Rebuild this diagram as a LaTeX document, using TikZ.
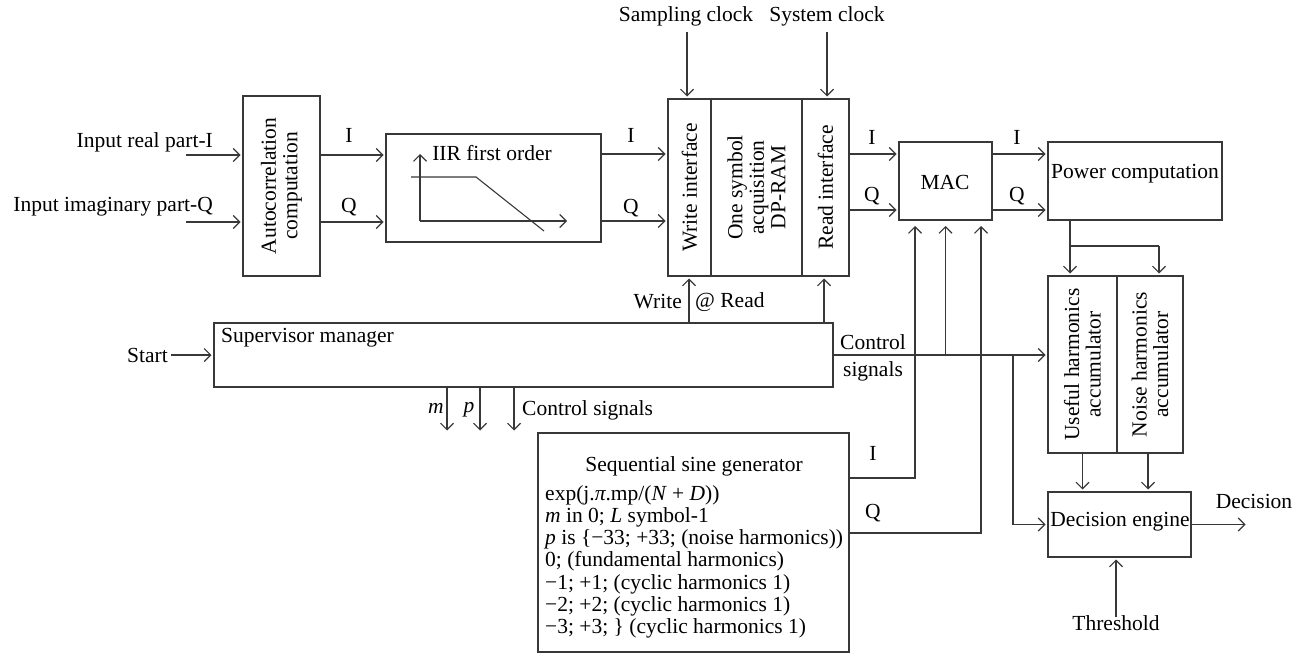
\documentclass[tikz,border=0pt]{standalone}
\usepackage{fontspec}
\setmainfont{Liberation Serif}
\usetikzlibrary{arrows.meta}
\begin{document}
\begin{tikzpicture}[x=1pt,y=-1pt,
  font=\fontsize{21.5}{22}\selectfont,
  box/.style={draw=black!78,line width=1.1pt,inner sep=0pt,outer sep=0pt},
  ln/.style={draw=black!78,line width=1.1pt},
  arr/.style={ln,-{Straight Barb[length=6.5pt,width=13pt,line width=1.1pt]},shorten >=2.5pt},
  axis/.style={ln,-{Straight Barb[length=6.5pt,width=13pt,line width=1.1pt]}},
  lbl/.style={inner sep=0pt,text=black},
  rot/.style={lbl,rotate=90,align=center,font=\fontsize{21.5}{21.5}\selectfont}
]
\useasboundingbox (0,0) rectangle (1296,653);

% ---------- boxes ----------
\node[box,minimum width=77pt,minimum height=180pt] (auto) at (281.5,186) {};
\node[rot] (autot) at (auto.center) {Autocorrelation\\computation};

\node[box,minimum width=215pt,minimum height=108pt] (iir) at (493.5,188) {};
\node[lbl] (iirt) at (492,153) {IIR first order};
\draw[axis] (420,221) -- (420,154);
\draw[axis] (420,221) -- (567,221);
\draw[ln] (411,177) -- (476,177) -- (544,231);

\node[box,minimum width=43pt,minimum height=177pt] (wi) at (689.5,187.5) {};
\node[box,minimum width=91pt,minimum height=177pt] (dp) at (756.5,187.5) {};
\node[box,minimum width=47pt,minimum height=177pt] (ri) at (825.5,187.5) {};
\node[rot] (wit) at (wi.center) {Write interface};
\node[rot] (dpt) at (dp.center) {One symbol\\acquisition\\DP-RAM};
\node[rot] (rit) at (ri.center) {Read interface};

\node[box,minimum width=93pt,minimum height=78pt] (mac) at (945.5,181) {};
\node[lbl] (mact) at (945,182) {MAC};

\node[box,minimum width=174pt,minimum height=78pt] (pow) at (1135,181) {};
\node[lbl] (powt) at (1135,174) {Power computation};

\node[box,minimum width=619pt,minimum height=64pt] (sup) at (523.5,355) {};
\node[lbl,anchor=west] (supt) at (221,338) {Supervisor manager};

\node[box,minimum width=311pt,minimum height=219pt] (sine) at (693.5,542.5) {};
\node[lbl,anchor=base] (sinet) at (694,471) {Sequential sine generator};
\node[lbl,anchor=base west] (s1) at (545,500) {exp(j.\textit{π}.mp/(\textit{N} + \textit{D}))};
\node[lbl,anchor=base west] (s2) at (545,522) {\textit{m} in 0; \textit{L} symbol-1};
\node[lbl,anchor=base west] (s3) at (545,544) {\textit{p} is \{−33; +33; (noise harmonics))};
\node[lbl,anchor=base west] (s4) at (545,566) {0; (fundamental harmonics)};
\node[lbl,anchor=base west] (s5) at (545,589) {−1; +1; (cyclic harmonics 1)};
\node[lbl,anchor=base west] (s6) at (545,611) {−2; +2; (cyclic harmonics 1)};
\node[lbl,anchor=base west] (s7) at (545,633) {−3; +3; \} (cyclic harmonics 1)};

\node[box,minimum width=69pt,minimum height=177pt] (ua) at (1082.5,364.5) {};
\node[box,minimum width=66pt,minimum height=177pt] (na) at (1150,364.5) {};
\node[rot] (uat) at (ua.center) {Useful harmonics\\accumulator};
\node[rot] (nat) at (na.center) {Noise harmonics\\accumulator};

\node[box,minimum width=143pt,minimum height=65pt] (dec) at (1119.5,524.5) {};
\node[lbl] (dect) at (1120,522) {Decision engine};

% ---------- inputs ----------
\node[lbl,anchor=east] (tin1) at (213,142) {Input real part-I};
\node[lbl,anchor=east] (tin2) at (213,207) {Input imaginary part-Q};
\coordinate (in1) at (186,155);
\coordinate (in2) at (186,222);
\draw[arr] (in1) -- (in1 -| auto.west);
\draw[arr] (in2) -- (in2 -| auto.west);

\draw[arr] (auto.east |- in1) -- (iir.west |- in1);
\draw[arr] (auto.east |- in2) -- (iir.west |- in2);
\node[lbl] (la1) at (349,135) {I};
\node[lbl] (la2) at (349,207) {Q};

\coordinate (r1) at (0,154);
\coordinate (r2) at (0,221);
\draw[arr] (iir.east |- r1) -- (wi.west |- r1);
\draw[arr] (iir.east |- r2) -- (wi.west |- r2);
\node[lbl] (lb1) at (631,135) {I};
\node[lbl] (lb2) at (631,208) {Q};

% clocks
\node[lbl] (sc) at (686,16) {Sampling clock};
\node[lbl] (syc) at (827,16) {System clock};
\coordinate (sct) at (687,32);
\coordinate (syt) at (827,32);
\draw[arr] (sct) -- (sct |- wi.north);
\draw[arr] (syt) -- (syt |- ri.north);

% write / read
\coordinate (wx) at (689,0);
\coordinate (rx) at (824,0);
\draw[arr] (wx |- sup.north) -- (wx |- wi.south);
\draw[arr] (rx |- sup.north) -- (rx |- ri.south);
\node[lbl,anchor=east] (lw) at (682,302) {Write};
\node[lbl,anchor=west] (lr) at (695,302) {@ Read};

% RAM -> MAC -> power
\coordinate (m1) at (0,154);
\coordinate (m2) at (0,210);
\draw[arr] (ri.east |- m1) -- (mac.west |- m1);
\draw[arr] (ri.east |- m2) -- (mac.west |- m2);
\node[lbl] (lc1) at (872,137) {I};
\node[lbl] (lc2) at (872,196) {Q};
\draw[arr] (mac.east |- m1) -- (pow.west |- m1);
\draw[arr] (mac.east |- m2) -- (pow.west |- m2);
\node[lbl] (ld1) at (1017,137) {I};
\node[lbl] (ld2) at (1017,196) {Q};

% power -> accumulators
\coordinate (pj) at (1070,246);
\coordinate (pj2) at (1159,246);
\draw[ln] (pj |- pow.south) -- (pj) -- (pj2);
\draw[arr] (pj) -- (pj |- ua.north);
\draw[arr] (pj2) -- (pj2 |- na.north);

% accumulators -> decision
\draw[arr] (ua.south) -- (ua.south |- dec.north);
\draw[arr] ([xshift=-2pt]na.south) -- ([xshift=-2pt]na.south |- dec.north);

% threshold, decision
\node[lbl] (th) at (1116,623) {Threshold};
\draw[arr] ([yshift=-2pt]th.north) -- (th.north |- dec.south);
\coordinate (dout) at (1248,524.5);
\draw[arr] (dec.east) -- (dout);
\node[lbl] (ldec) at (1254,501) {Decision};

% start
\node[lbl,anchor=east] (st) at (168,355) {Start};
\draw[arr] ([xshift=3pt]st.east) -- (st.east -| sup.west);

% m, p, control signals
\coordinate (xm) at (447,0);
\coordinate (xp) at (480,0);
\coordinate (xc) at (514,0);
\draw[arr] (xm |- sup.south) -- (xm |- sine.north);
\draw[arr] (xp |- sup.south) -- (xp |- sine.north);
\draw[arr] (xc |- sup.south) -- (xc |- sine.north);
\node[lbl] (lm) at (436,408) {\textit{m}};
\node[lbl] (lp) at (469,410) {\textit{p}};
\node[lbl,anchor=west] (lcs) at (522,410) {Control signals};

% control signals to accumulators
\draw[arr] (sup.east) -- (sup.east -| ua.west);
\node[lbl] (lco) at (873,342) {Control};
\node[lbl] (lsi) at (873,371) {signals};
\draw[arr,shorten >=6pt] (mac.south |- sup.east) -- (mac.south);

% sine generator outputs
\coordinate (sI) at (915,478);
\coordinate (sQ) at (981,533);
\draw[arr,shorten >=6pt] (sine.east |- sI) -- (sI) -- (sI |- mac.south);
\draw[arr,shorten >=6pt] (sine.east |- sQ) -- (sQ) -- (sQ |- mac.south);
\node[lbl] (le1) at (873,453) {I};
\node[lbl] (le2) at (873,513) {Q};

% branch to decision engine
\coordinate (dj) at (1013,355);
\draw[arr] (dj) |- (dec.west);
\end{tikzpicture}
\end{document}
